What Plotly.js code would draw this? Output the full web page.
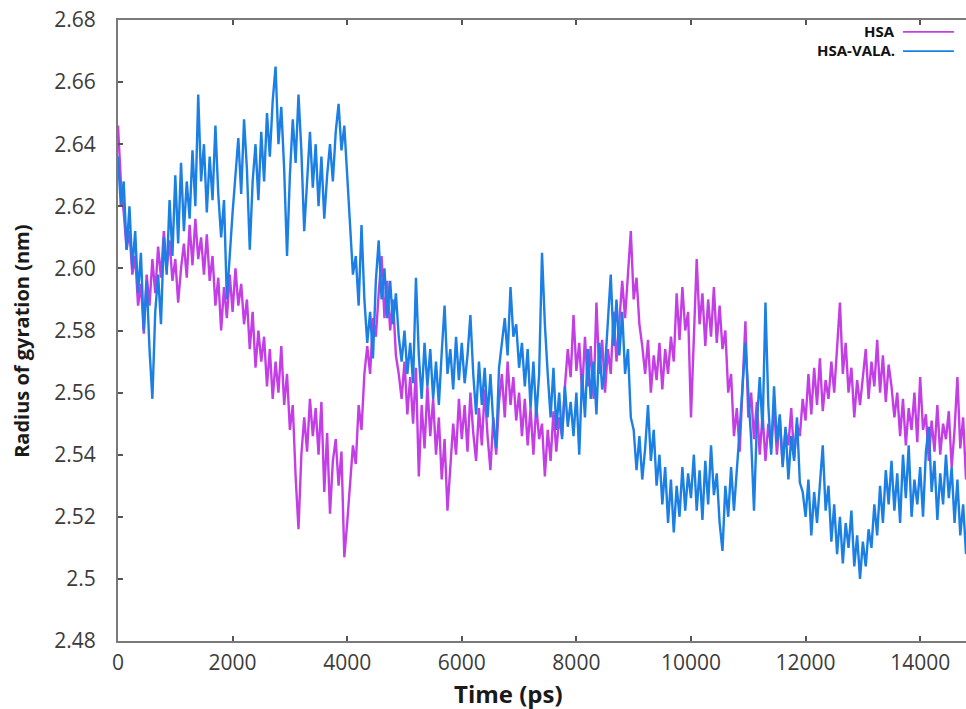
<!DOCTYPE html>
<html>
<head>
<meta charset="utf-8">
<script src="https://cdn.plot.ly/plotly-3.0.1.min.js"></script>
<style>html,body{margin:0;padding:0;background:#fff;}#chart{width:966px;height:709px;}</style>
</head>
<body>
<div id="chart"></div>
<script>
// Sampling interval of the trajectory values below (ps)
const timeStepPs = 50;

// Radius of gyration (nm), HSA, every 50 ps (0 - 15000 ps)
const rgHSA = [
  2.646, 2.628, 2.618, 2.606, 2.612, 2.598, 2.604, 2.588, 2.595, 2.579,
  2.598, 2.588, 2.603, 2.592, 2.607, 2.597, 2.612, 2.600, 2.609, 2.596,
  2.603, 2.589, 2.600, 2.608, 2.597, 2.614, 2.601, 2.616, 2.603, 2.610,
  2.598, 2.611, 2.596, 2.604, 2.588, 2.597, 2.580, 2.594, 2.584, 2.598,
  2.586, 2.600, 2.588, 2.595, 2.582, 2.590, 2.574, 2.586, 2.568, 2.580,
  2.570, 2.578, 2.562, 2.574, 2.558, 2.570, 2.560, 2.575, 2.556, 2.566,
  2.548, 2.556, 2.533, 2.516, 2.540, 2.552, 2.541, 2.558, 2.546, 2.555,
  2.540, 2.557, 2.528, 2.547, 2.521, 2.538, 2.545, 2.530, 2.541, 2.507,
  2.518, 2.530, 2.543, 2.537, 2.556, 2.548, 2.566, 2.575, 2.566, 2.584,
  2.578, 2.592, 2.604, 2.584, 2.596, 2.580, 2.590, 2.572, 2.566, 2.558,
  2.570, 2.553, 2.565, 2.550, 2.568, 2.533, 2.556, 2.542, 2.562, 2.546,
  2.558, 2.540, 2.552, 2.532, 2.545, 2.522, 2.537, 2.550, 2.540, 2.558,
  2.545, 2.556, 2.541, 2.560, 2.547, 2.538, 2.555, 2.543, 2.561, 2.546,
  2.535, 2.552, 2.540, 2.557, 2.566, 2.552, 2.570, 2.556, 2.565, 2.551,
  2.560, 2.546, 2.558, 2.543, 2.555, 2.540, 2.556, 2.545, 2.550, 2.533,
  2.548, 2.538, 2.554, 2.541, 2.552, 2.546, 2.562, 2.574, 2.565, 2.585,
  2.567, 2.576, 2.560, 2.578, 2.562, 2.575, 2.558, 2.589, 2.566, 2.577,
  2.560, 2.574, 2.566, 2.586, 2.570, 2.582, 2.596, 2.584, 2.600, 2.612,
  2.590, 2.597, 2.582, 2.575, 2.566, 2.577, 2.560, 2.572, 2.564, 2.576,
  2.561, 2.574, 2.566, 2.578, 2.570, 2.592, 2.577, 2.594, 2.580, 2.586,
  2.552, 2.579, 2.603, 2.582, 2.592, 2.575, 2.590, 2.578, 2.594, 2.576,
  2.588, 2.574, 2.580, 2.560, 2.566, 2.546, 2.555, 2.541, 2.562, 2.583,
  2.552, 2.560, 2.545, 2.557, 2.540, 2.553, 2.538, 2.550, 2.542, 2.556,
  2.540, 2.552, 2.537, 2.548, 2.543, 2.555, 2.539, 2.550, 2.546, 2.558,
  2.551, 2.566, 2.553, 2.568, 2.556, 2.571, 2.554, 2.564, 2.558, 2.570,
  2.560, 2.574, 2.589, 2.566, 2.576, 2.560, 2.568, 2.552, 2.564, 2.556,
  2.566, 2.574, 2.558, 2.570, 2.562, 2.577, 2.560, 2.572, 2.557, 2.569,
  2.562, 2.552, 2.560, 2.546, 2.558, 2.543, 2.555, 2.548, 2.560, 2.544,
  2.565, 2.548, 2.553, 2.538, 2.551, 2.541, 2.556, 2.540, 2.550, 2.545,
  2.554, 2.536, 2.548, 2.565, 2.542, 2.552, 2.532, 2.547, 2.538, 2.550,
  2.541
];

// Radius of gyration (nm), HSA-VALA. complex, every 50 ps (0 - 15000 ps)
const rgHSAVALA = [
  2.636, 2.620, 2.628, 2.606, 2.620, 2.600, 2.612, 2.592, 2.605, 2.580,
  2.596, 2.574, 2.558, 2.586, 2.598, 2.582, 2.610, 2.598, 2.622, 2.604,
  2.630, 2.608, 2.634, 2.612, 2.628, 2.616, 2.638, 2.620, 2.656, 2.628,
  2.640, 2.618, 2.636, 2.622, 2.646, 2.624, 2.610, 2.622, 2.590, 2.606,
  2.618, 2.630, 2.642, 2.624, 2.648, 2.632, 2.606, 2.628, 2.640, 2.622,
  2.644, 2.628, 2.650, 2.636, 2.654, 2.665, 2.640, 2.652, 2.632, 2.604,
  2.630, 2.648, 2.634, 2.656, 2.638, 2.612, 2.630, 2.644, 2.626, 2.640,
  2.620, 2.636, 2.616, 2.630, 2.640, 2.628, 2.644, 2.653, 2.638, 2.646,
  2.630, 2.612, 2.598, 2.604, 2.588, 2.614, 2.590, 2.576, 2.586, 2.571,
  2.596, 2.609, 2.590, 2.600, 2.584, 2.596, 2.582, 2.592, 2.578, 2.570,
  2.580, 2.566, 2.576, 2.563, 2.597, 2.572, 2.558, 2.576, 2.562, 2.574,
  2.558, 2.570, 2.556, 2.573, 2.588, 2.566, 2.574, 2.561, 2.578, 2.564,
  2.576, 2.563, 2.572, 2.585, 2.566, 2.553, 2.570, 2.556, 2.568, 2.552,
  2.566, 2.550, 2.542, 2.568, 2.576, 2.584, 2.572, 2.594, 2.578, 2.582,
  2.568, 2.576, 2.562, 2.574, 2.555, 2.570, 2.552, 2.566, 2.605, 2.582,
  2.566, 2.552, 2.568, 2.548, 2.560, 2.545, 2.562, 2.549, 2.557, 2.546,
  2.560, 2.540, 2.566, 2.552, 2.574, 2.558, 2.570, 2.553, 2.576, 2.561,
  2.568, 2.584, 2.598, 2.575, 2.590, 2.572, 2.586, 2.566, 2.574, 2.552,
  2.548, 2.535, 2.546, 2.532, 2.542, 2.556, 2.538, 2.548, 2.530, 2.540,
  2.524, 2.536, 2.518, 2.532, 2.515, 2.530, 2.520, 2.536, 2.522, 2.534,
  2.526, 2.540, 2.522, 2.535, 2.519, 2.538, 2.524, 2.543, 2.527, 2.534,
  2.518, 2.509, 2.530, 2.520, 2.536, 2.522, 2.534, 2.548, 2.562, 2.576,
  2.560, 2.545, 2.522, 2.550, 2.565, 2.548, 2.589, 2.556, 2.540, 2.562,
  2.544, 2.553, 2.536, 2.549, 2.532, 2.546, 2.538, 2.552, 2.531, 2.528,
  2.520, 2.532, 2.514, 2.528, 2.518, 2.531, 2.543, 2.522, 2.530, 2.512,
  2.524, 2.508, 2.520, 2.505, 2.518, 2.510, 2.522, 2.504, 2.514, 2.500,
  2.512, 2.504, 2.516, 2.510, 2.524, 2.514, 2.530, 2.518, 2.535, 2.524,
  2.538, 2.522, 2.534, 2.518, 2.540, 2.526, 2.543, 2.520, 2.532, 2.524,
  2.536, 2.520, 2.541, 2.549, 2.528, 2.538, 2.519, 2.534, 2.524, 2.540,
  2.526, 2.536, 2.518, 2.532, 2.514, 2.524, 2.508, 2.528, 2.512, 2.502,
  2.520
];

const seriesNames = ["HSA", "HSA-VALA."];
const xTickVals = [0, 2000, 4000, 6000, 8000, 10000, 12000, 14000];
const yTickVals = [2.48, 2.50, 2.52, 2.54, 2.56, 2.58, 2.60, 2.62, 2.64, 2.66, 2.68];
const yTickText = ["2.48", "2.5", "2.52", "2.54", "2.56", "2.58", "2.60", "2.62", "2.64", "2.66", "2.68"];

const timeHSA = rgHSA.map((_, i) => i * timeStepPs);
const timeVALA = rgHSAVALA.map((_, i) => i * timeStepPs);

const colors = ["#c43ee6", "#1b7fe3"];

const traces = [
  {x: timeHSA, y: rgHSA, name: seriesNames[0], type: "scatter", mode: "lines",
   line: {color: colors[0], width: 2.4}, showlegend: false},
  {x: timeVALA, y: rgHSAVALA, name: seriesNames[1], type: "scatter", mode: "lines",
   line: {color: colors[1], width: 2.4}, showlegend: false}
];

const tickFont = {family: "Open Sans, sans-serif", size: 21, color: "#3c3c3c", weight: 400};
const titleFamily = "Open Sans, sans-serif";

const layout = {
  width: 966, height: 709,
  margin: {l: 118, r: 0, t: 20, b: 68},
  paper_bgcolor: "#ffffff", plot_bgcolor: "#ffffff",
  showlegend: false,
  xaxis: {
    range: [0, 14800], tickvals: xTickVals, ticktext: xTickVals.map(String),
    ticks: "inside", ticklen: 5, tickwidth: 1.5, tickcolor: "#555",
    showline: true, linecolor: "#7a7a7a", linewidth: 2, mirror: "ticks",
    showgrid: false, zeroline: false, tickfont: tickFont, ticklabelstandoff: 2
  },
  yaxis: {
    range: [2.48, 2.68], tickvals: yTickVals, ticktext: yTickText,
    ticks: "inside", ticklen: 5, tickwidth: 1.5, tickcolor: "#555",
    showline: true, linecolor: "#7a7a7a", linewidth: 2, mirror: false,
    showgrid: false, zeroline: false, tickfont: tickFont, ticklabelstandoff: 16
  },
  annotations: [
    {xref: "paper", yref: "paper", x: 0.46, y: -0.085, xanchor: "center", yanchor: "middle",
     text: "Time (ps)", showarrow: false,
     font: {family: titleFamily, size: 24, color: "#1a1a1a", weight: 700}},
    {xref: "paper", yref: "paper", x: -0.113, y: 0.482, xanchor: "center", yanchor: "middle",
     text: "Radius of gyration (nm)", textangle: -90, showarrow: false,
     font: {family: titleFamily, size: 20, color: "#1a1a1a", weight: 700}},
    {xref: "paper", yref: "paper", x: 0.9186, y: 0.982, xanchor: "right", yanchor: "middle",
     text: seriesNames[0], showarrow: false,
     font: {family: titleFamily, size: 15, color: "#111", weight: 700}},
    {xref: "paper", yref: "paper", x: 0.9186, y: 0.951, xanchor: "right", yanchor: "middle",
     text: seriesNames[1], showarrow: false,
     font: {family: titleFamily, size: 15, color: "#111", weight: 700}}
  ],
  shapes: [
    {type: "line", xref: "paper", yref: "paper", x0: 0.9257, x1: 0.9858, y0: 0.981, y1: 0.981,
     line: {color: colors[0], width: 1.8}},
    {type: "line", xref: "paper", yref: "paper", x0: 0.9257, x1: 0.9858, y0: 0.950, y1: 0.950,
     line: {color: colors[1], width: 1.8}}
  ]
};

Plotly.newPlot("chart", traces, layout, {displayModeBar: false, responsive: false});
</script>
</body>
</html>
